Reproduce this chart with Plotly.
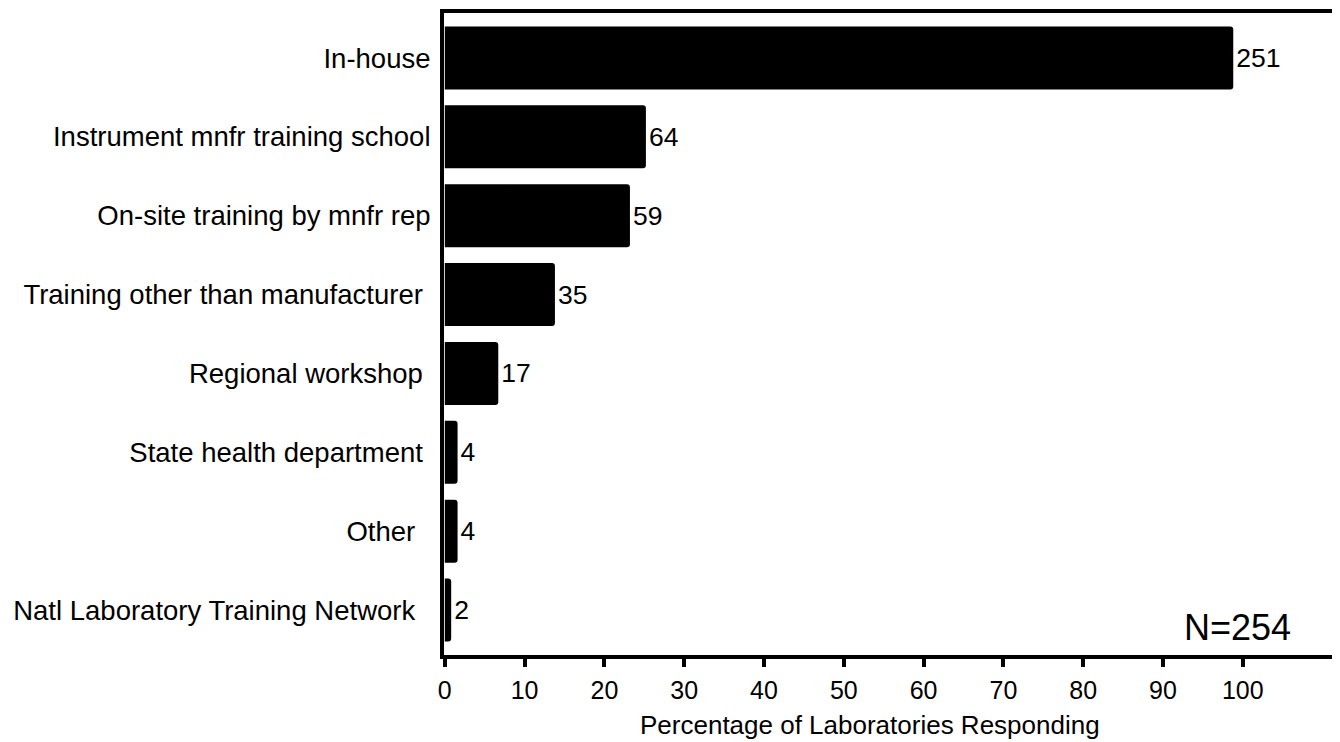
import plotly.graph_objects as go

# категории сверху вниз, как на исходной картинке
categories = [
    'In-house',
    'Instrument mnfr training school',
    'On-site training by mnfr rep',
    'Training other than manufacturer',
    'Regional workshop',
    'State health department',
    'Other',
    'Natl Laboratory Training Network',
]
counts = [251, 64, 59, 35, 17, 4, 4, 2]
percents = [98.8, 25.2, 23.2, 13.8, 6.7, 1.6, 1.6, 0.8]
x_ticks = [0, 10, 20, 30, 40, 50, 60, 70, 80, 90, 100]

FONT = 'Liberation Sans, Arial, sans-serif'

fig = go.Figure(go.Bar(
    x=percents,
    y=categories,
    orientation='h',
    width=0.8,
    marker=dict(color='black', line=dict(width=0), cornerradius=3),
    text=[str(c) for c in counts],
    textposition='outside',
    textfont=dict(size=26.5, color='black', family=FONT),
    cliponaxis=False,
))

# страница имеет отступ body 8px, поэтому фигура чуть меньше окна
fig.update_layout(
    width=1332, height=734,
    margin=dict(l=436, r=2, t=1, b=87),
    plot_bgcolor='white', paper_bgcolor='white',
    font=dict(family=FONT, size=25, color='black'),
    showlegend=False,
)
fig.update_xaxes(
    range=[-0.1, 111.55],
    tickvals=x_ticks,
    ticks='outside', ticklen=8, tickwidth=4, tickcolor='black',
    ticklabelstandoff=2,
    showline=True, linewidth=4, linecolor='black', mirror=True,
    showgrid=False, zeroline=False,
    tickfont=dict(size=25),
)

# в оригинале подписи выровнены неровно (хвостовые пробелы)
label_pad = [0, 0, 0, 1, 1, 1, 2, 2]
fig.update_yaxes(
    categoryorder='array', categoryarray=categories[::-1],
    tickvals=categories,
    ticktext=[c + '\u00a0' * p for c, p in zip(categories, label_pad)],
    range=[-0.57, 7.57],
    ticks='', ticklabelstandoff=4,
    showline=True, linewidth=4, linecolor='black', mirror=True,
    showgrid=False, zeroline=False,
    tickfont=dict(size=27.5),
)

fig.add_annotation(
    text='Percentage of Laboratories Responding',
    xref='paper', yref='paper', x=0.478, y=-0.109,
    xanchor='center', yanchor='middle', showarrow=False,
    font=dict(size=26),
)
fig.add_annotation(
    text='N=254',
    xref='x', yref='paper', x=106.3, y=0.008,
    xanchor='right', yanchor='bottom', showarrow=False,
    font=dict(size=36),
)

fig.write_html('out.html')
